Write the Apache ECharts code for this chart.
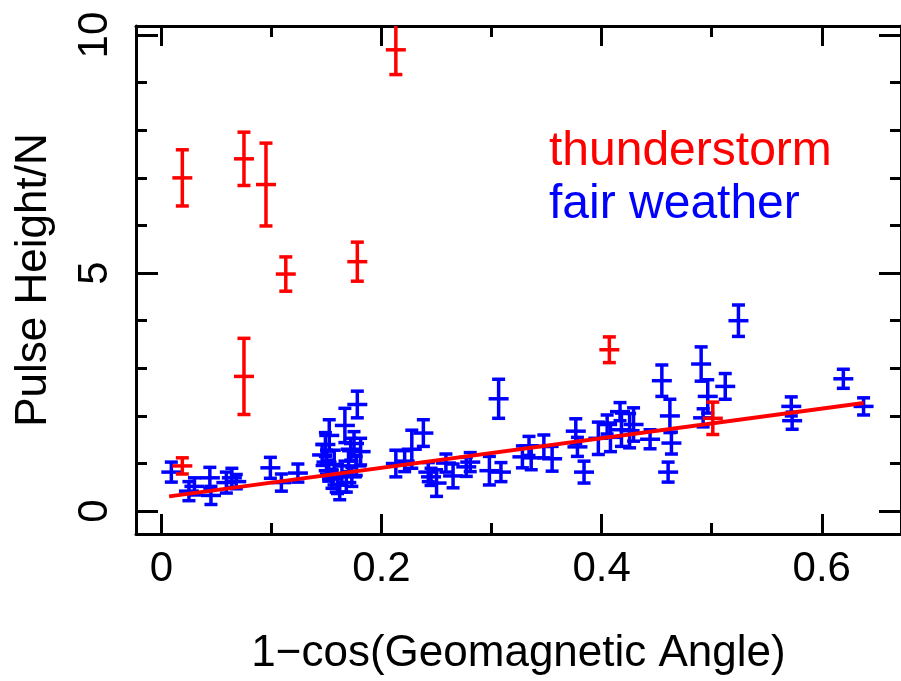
<!DOCTYPE html>
<html>
<head>
<meta charset="utf-8">
<style>html,body{margin:0;padding:0;background:#fff}#chart{width:901px;height:681px}</style>
<script src="https://cdn.jsdelivr.net/npm/echarts@6/dist/echarts.min.js"></script>
</head>
<body>
<div id="chart"></div>
<script>
// ---- data ----
const xMajorTicks = [0, 0.2, 0.4, 0.6];
const xMinorTicks = [0.1, 0.3, 0.5];
const yMajorTicks = [0, 5, 10];
const yMinorTicks = [1, 2, 3, 4, 6, 7, 8, 9];

const thunderX   = [0.019, 0.075, 0.095, 0.213, 0.178, 0.113, 0.075, 0.019, 0.407, 0.501];
const thunderY   = [7.00, 7.40, 6.86, 9.69, 5.24, 4.98, 2.83, 0.95, 3.39, 1.95];
const thunderErr = [0.59, 0.56, 0.87, 0.52, 0.41, 0.36, 0.80, 0.17, 0.27, 0.34];

const fairX = [0.009, 0.025, 0.030, 0.044, 0.045, 0.059, 0.064, 0.068, 0.099, 0.109, 0.124,
  0.146, 0.149, 0.1525, 0.150, 0.152, 0.155, 0.157, 0.160, 0.162, 0.164, 0.1667, 0.168, 0.170, 0.172, 0.175, 0.173, 0.178, 0.181, 0.177,
  0.213, 0.221, 0.2275, 0.238, 0.2425, 0.245, 0.250, 0.2585, 0.265, 0.277, 0.2806, 0.298, 0.3064, 0.3085,
  0.328, 0.334, 0.336, 0.3475, 0.355, 0.3765, 0.378, 0.384, 0.397, 0.405, 0.408, 0.4167, 0.418, 0.4254, 0.429,
  0.444, 0.4547, 0.462, 0.4634, 0.4604, 0.4904, 0.4964, 0.4922, 0.5123, 0.5243, 0.5723, 0.5731, 0.6196, 0.638];
const fairY = [0.82, 0.42, 0.52, 0.70, 0.33, 0.60, 0.70, 0.62, 0.91, 0.60, 0.80,
  1.18, 1.40, 1.59, 1.03, 0.85, 0.68, 0.98, 0.55, 0.40, 0.75, 1.80, 0.60, 1.05, 1.30, 1.42, 0.72, 2.24, 1.25, 0.95,
  1.00, 1.05, 1.30, 1.64, 0.82, 0.72, 0.59, 1.01, 0.74, 0.93, 1.03, 0.85, 2.36, 0.82,
  1.14, 1.37, 1.12, 1.36, 1.10, 1.68, 1.35, 0.82, 1.53, 1.82, 1.55, 2.09, 1.71, 1.69, 1.82,
  1.51, 2.74, 2.00, 1.43, 0.82, 3.09, 2.41, 1.96, 2.62, 4.00, 2.20, 1.90, 2.78, 2.20];
const fairErr = [0.21, 0.20, 0.18, 0.22, 0.19, 0.22, 0.20, 0.15, 0.22, 0.18, 0.19,
  0.22, 0.25, 0.33, 0.25, 0.22, 0.20, 0.30, 0.18, 0.16, 0.20, 0.36, 0.20, 0.22, 0.23, 0.25, 0.20, 0.28, 0.28, 0.20,
  0.28, 0.22, 0.40, 0.28, 0.20, 0.18, 0.28, 0.19, 0.25, 0.20, 0.20, 0.30, 0.41, 0.20,
  0.23, 0.20, 0.25, 0.24, 0.26, 0.26, 0.20, 0.23, 0.34, 0.20, 0.30, 0.19, 0.35, 0.36, 0.35,
  0.20, 0.33, 0.35, 0.23, 0.21, 0.36, 0.35, 0.19, 0.27, 0.33, 0.20, 0.18, 0.20, 0.18];

const fitX = [0.007, 0.638];
const fitY = [0.31, 2.27];

// ---- layout / style ----
const X_MIN = -0.0231, X_MAX = 0.672;
const Y_MIN = -0.48, Y_MAX = 10.19;
const FONT = '"Liberation Sans", Arial, Helvetica, sans-serif';
const RED = '#ff0000', BLUE = '#0000ff';

function zip3(a, b, c) { return a.map((v, i) => [v, b[i], c[i]]); }

function errorBars(color) {
  return function (params, api) {
    const x = api.value(0), y = api.value(1), e = api.value(2);
    const cs = params.coordSys;
    const c = api.coord([x, y]);
    const t = api.coord([x, y + e]);
    const b = api.coord([x, y - e]);
    const top = Math.max(t[1], cs.y), bot = Math.min(b[1], cs.y + cs.height);
    const st = { stroke: color, lineWidth: 3.5 };
    const ch = [
      { type: 'line', shape: { x1: c[0], y1: top, x2: c[0], y2: bot }, style: st },
      { type: 'line', shape: { x1: c[0] - 10, y1: c[1], x2: c[0] + 10, y2: c[1] }, style: st }
    ];
    if (t[1] >= cs.y) ch.push({ type: 'line', shape: { x1: c[0] - 6.5, y1: t[1], x2: c[0] + 6.5, y2: t[1] }, style: st });
    if (b[1] <= cs.y + cs.height) ch.push({ type: 'line', shape: { x1: c[0] - 6.5, y1: b[1], x2: c[0] + 6.5, y2: b[1] }, style: st });
    return { type: 'group', children: ch };
  };
}

function xAx(position, ticks, len, line, labels, extra) {
  return Object.assign({
    type: 'value', gridIndex: 0, position: position, min: X_MIN, max: X_MAX,
    axisLine: { show: line, onZero: false, lineStyle: { color: '#000', width: 3 } },
    axisTick: { show: true, inside: true, length: len, customValues: ticks, lineStyle: { color: '#000', width: 3 } },
    axisLabel: { show: labels, customValues: ticks, fontSize: 42, fontFamily: FONT, color: '#000', margin: 14 },
    splitLine: { show: false }
  }, extra || {});
}
function yAx(position, ticks, len, line, labels, extra) {
  return Object.assign({
    type: 'value', gridIndex: 0, position: position, min: Y_MIN, max: Y_MAX,
    axisLine: { show: line, onZero: false, lineStyle: { color: '#000', width: 3 } },
    axisTick: { show: true, inside: true, length: len, customValues: ticks, lineStyle: { color: '#000', width: 3 } },
    axisLabel: { show: labels, customValues: ticks, rotate: 90, fontSize: 42, fontFamily: FONT, color: '#000', margin: 20 },
    splitLine: { show: false }
  }, extra || {});
}

const chart = echarts.init(document.getElementById('chart'), null, { renderer: 'canvas' });
chart.setOption({
  animation: false,
  backgroundColor: '#fff',
  grid: { left: 136, top: 26, width: 773, height: 509, containLabel: false },
  legend: {
    orient: 'vertical', left: 544, top: 125, icon: 'none', itemWidth: 0, itemHeight: 0, itemGap: 0, padding: 0,
    selectedMode: false,
    textStyle: { fontSize: 48, fontFamily: FONT, lineHeight: 53 },
    data: [
      { name: 'thunderstorm', textStyle: { color: RED } },
      { name: 'fair weather', textStyle: { color: BLUE } }
    ]
  },
  xAxis: [
    xAx('bottom', xMajorTicks, 20, true, true, {
      name: '1\u2212cos(Geomagnetic Angle)', nameLocation: 'middle', nameGap: 98,
      nameTextStyle: { fontSize: 44, fontFamily: FONT, color: '#000' }
    }),
    xAx('bottom', xMinorTicks, 11, false, false),
    xAx('top', xMajorTicks, 20, true, false),
    xAx('top', xMinorTicks, 11, false, false)
  ],
  yAxis: [
    yAx('left', yMajorTicks, 22, true, true, {
      name: 'Pulse Height/N', nameLocation: 'middle', nameRotate: 90, nameGap: 80,
      nameTextStyle: { fontSize: 44, fontFamily: FONT, color: '#000' }
    }),
    yAx('left', yMinorTicks, 11, false, false),
    yAx('right', yMajorTicks, 22, true, false),
    yAx('right', yMinorTicks, 11, false, false)
  ],
  series: [
    {
      name: 'fair weather', type: 'custom', xAxisIndex: 0, yAxisIndex: 0, z: 2,
      itemStyle: { color: BLUE }, renderItem: errorBars(BLUE),
      encode: { x: 0, y: 1 }, data: zip3(fairX, fairY, fairErr)
    },
    {
      name: 'thunderstorm', type: 'custom', xAxisIndex: 0, yAxisIndex: 0, z: 3,
      itemStyle: { color: RED }, renderItem: errorBars(RED),
      encode: { x: 0, y: 1 }, data: zip3(thunderX, thunderY, thunderErr)
    },
    {
      name: 'fit', type: 'line', xAxisIndex: 0, yAxisIndex: 0, z: 4, symbol: 'none',
      lineStyle: { color: RED, width: 4 }, itemStyle: { color: RED },
      data: fitX.map((v, i) => [v, fitY[i]])
    }
  ]
});
</script>
</body>
</html>
